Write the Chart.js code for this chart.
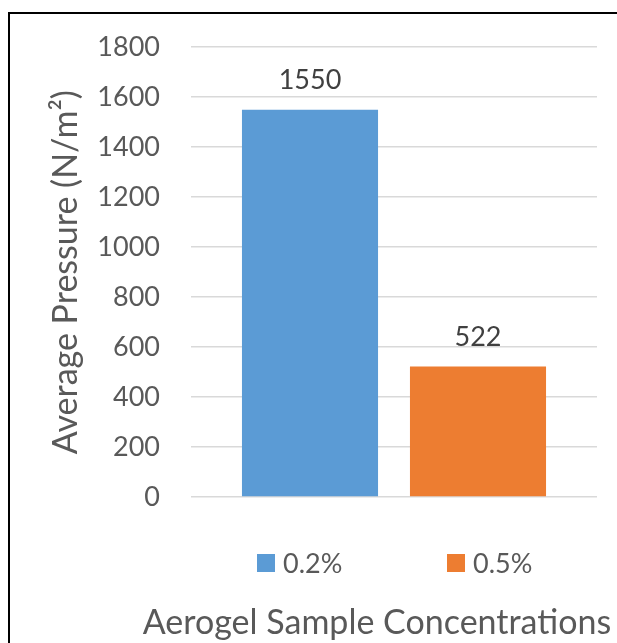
<!DOCTYPE html>
<html>
<head>
<meta charset="utf-8">
<script src="https://cdn.jsdelivr.net/npm/chart.js@4/dist/chart.umd.min.js"></script>
<style>
  html, body { margin: 0; padding: 0; background: #fff; overflow: hidden; }
  #wrap { position: relative; width: 617px; height: 643px; }
  #frame { position: absolute; left: 8px; top: 12px; width: 700px; height: 700px;
           border-left: 2px solid #000; border-top: 2px solid #000; box-sizing: border-box; }
  canvas { position: absolute; left: 0; top: 0; }
</style>
</head>
<body>
<div id="wrap">
  <div id="frame"></div>
  <canvas id="c" width="617" height="643"></canvas>
</div>
<script>
const categories = [''];
const seriesNames = ['0.2%', '0.5%'];
const series02 = [1550];
const series05 = [522];
const yTicks = [0, 200, 400, 600, 800, 1000, 1200, 1400, 1600, 1800];
const seriesColors = ['#5B9BD5', '#ED7D31'];

const FONT = 'Lato, Calibri, "Open Sans", sans-serif';
const TEXT = '#595959';

// value labels above each bar
const valueLabels = {
  id: 'valueLabels',
  afterDatasetsDraw(chart) {
    const ctx = chart.ctx;
    ctx.save();
    ctx.font = '27px ' + FONT;
    ctx.fillStyle = '#404040';
    ctx.textAlign = 'center';
    ctx.textBaseline = 'bottom';
    chart.data.datasets.forEach((ds, i) => {
      chart.getDatasetMeta(i).data.forEach((bar, j) => {
        ctx.fillText(String(ds.data[j]), bar.x, bar.y - 16);
      });
    });
    ctx.restore();
  }
};

// legend row and horizontal axis title beneath the plot
const bottomTexts = {
  id: 'bottomTexts',
  afterDraw(chart) {
    const ctx = chart.ctx;
    const area = chart.chartArea;
    ctx.save();
    ctx.font = '27px ' + FONT;
    ctx.textBaseline = 'middle';
    ctx.textAlign = 'left';
    const legendY = area.bottom + 66;
    const starts = [257, 447];
    chart.data.datasets.forEach((ds, i) => {
      const x = starts[i];
      ctx.fillStyle = ds.backgroundColor;
      ctx.fillRect(x, legendY - 9, 18, 18);
      ctx.fillStyle = TEXT;
      ctx.fillText(ds.label, x + 26, legendY + 1);
    });
    ctx.font = '34px ' + FONT;
    ctx.textAlign = 'center';
    ctx.fillStyle = TEXT;
    ctx.fillText('Aerogel Sample Concentrations', 377, area.bottom + 126);
    ctx.restore();
  }
};

new Chart(document.getElementById('c'), {
  type: 'bar',
  data: {
    labels: categories,
    datasets: [
      { label: seriesNames[0], data: series02, backgroundColor: seriesColors[0] },
      { label: seriesNames[1], data: series05, backgroundColor: seriesColors[1] }
    ]
  },
  options: {
    responsive: false,
    animation: false,
    events: [],
    categoryPercentage: 0.8276,
    barPercentage: 0.81,
    layout: { padding: { top: 45, right: 20, bottom: 146, left: 0 } },
    plugins: { legend: { display: false }, tooltip: { enabled: false } },
    scales: {
      x: {
        grid: { display: false },
        border: { display: false },
        ticks: { display: false },
        afterFit(scale) { scale.height = 0; }
      },
      y: {
        min: 0,
        max: 1800,
        afterBuildTicks(scale) { scale.ticks = yTicks.map(v => ({ value: v })); },
        afterFit(scale) { scale.width = 191; },
        grid: { color: '#D9D9D9', lineWidth: 1.5, drawTicks: false },
        border: { display: false },
        ticks: {
          padding: 31, color: TEXT, font: { family: FONT, size: 27 },
          callback: v => String(v)
        },
        title: {
          display: true,
          text: 'Average Pressure (N/m²)',
          color: TEXT,
          font: { family: FONT, size: 34 },
          padding: { top: 46, bottom: 0 }
        }
      }
    }
  },
  plugins: [valueLabels, bottomTexts]
});
</script>
</body>
</html>
